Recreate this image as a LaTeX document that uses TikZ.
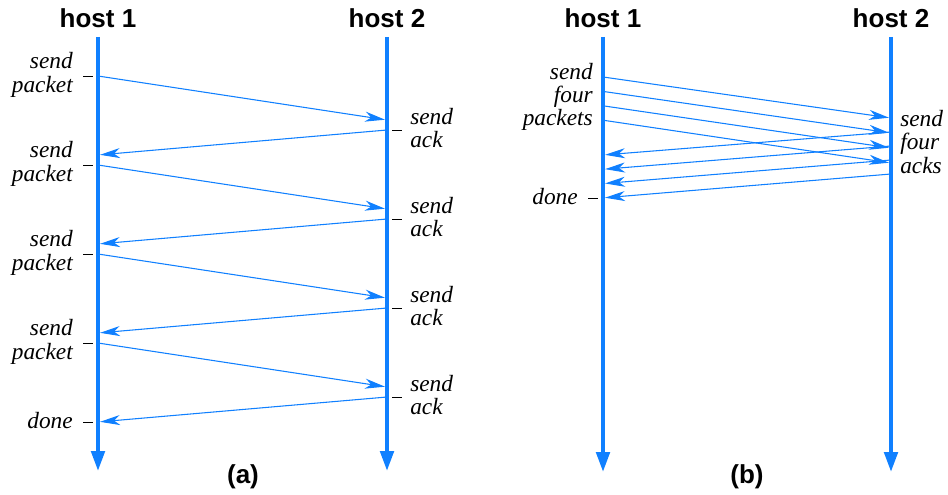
\documentclass[tikz,border=0pt]{standalone}
\usepackage{fontspec}
\setmainfont{Liberation Serif}
\newfontfamily\hostfont{Liberation Sans}
\usetikzlibrary{arrows.meta}
\definecolor{lineblue}{RGB}{16,128,255}

\begin{document}
\begin{tikzpicture}[x=0.75pt,y=-0.75pt,
    host/.style={font=\hostfont\bfseries\fontsize{19.5}{19.5}\selectfont, inner sep=0pt},
    lbl/.style={font=\itshape\fontsize{17.5}{17.5}\selectfont, inner sep=0pt},
    timeline/.style={lineblue, line width=3pt, -{Triangle[length=15pt,width=10pt]}},
    msg/.style={lineblue, line width=0.8pt, shorten >=1.5pt, -{Stealth[length=15pt,width=7.5pt,inset=4.5pt]}},
    tick/.style={black, line width=0.7pt}
  ]
  \useasboundingbox (0,0) rectangle (948,495);

  % (a) stop and wait
  \coordinate (a1top) at (98,37);  \coordinate (a1bot) at (98,471);
  \coordinate (a2top) at (387,37); \coordinate (a2bot) at (387,471);
  \draw[timeline] (a1top) -- (a1bot);
  \draw[timeline] (a2top) -- (a2bot);
  \node[host, anchor=base] (hosta1) at (98,28) {host 1};
  \node[host, anchor=base] (hosta2) at (387,28) {host 2};
  \node[host] (capa) at (243,477) {(a)};

  \foreach \k in {0,1,2,3} {
    \pgfmathsetmacro{\y}{76+89*\k}
    \coordinate (pa\k) at (98,\y);
    \coordinate (qa\k) at (387,\y+44);
    \coordinate (ra\k) at (387,\y+54);
    \coordinate (sa\k) at (98,\y+79);
    \draw[msg] (pa\k) -- (qa\k);
    \draw[msg] (ra\k) -- (sa\k);
    % labels
    \node[lbl, anchor=east, align=right] (sendp\k) at (73,\y-1) {send\\packet};
    \draw[tick] (83,\y) -- (93,\y);
    \node[lbl, anchor=west, align=left] (senda\k) at (410,\y+52) {send\\ack};
    \draw[tick] (392,\y+54) -- (402,\y+54);
  }
  \node[lbl, anchor=east] (donea) at (73,421) {done};
  \draw[tick] (83,422) -- (93,422);

  % (b) four packets at once
  \coordinate (b1top) at (603,37); \coordinate (b1bot) at (603,472);
  \coordinate (b2top) at (891,37); \coordinate (b2bot) at (891,472);
  \draw[timeline] (b1top) -- (b1bot);
  \draw[timeline] (b2top) -- (b2bot);
  \node[host, anchor=base] (hostb1) at (603,28) {host 1};
  \node[host, anchor=base] (hostb2) at (891,28) {host 2};
  \node[host] (capb) at (747,477) {(b)};

  \foreach \k in {0,1,2,3} {
    \coordinate (pb\k) at (603,77+14.4*\k);
    \coordinate (qb\k) at (891,118+15*\k);
    \coordinate (rb\k) at (891,132+14*\k);
    \coordinate (sb\k) at (603,155+14.3*\k);
    \draw[msg] (pb\k) -- (qb\k);
    \draw[msg] (rb\k) -- (sb\k);
  }
  \node[lbl, anchor=east, align=right] (sendfour) at (593,97) {send\\four\\packets};
  \node[lbl, anchor=west, align=left] (ackfour) at (900,142) {send\\four\\acks};
  \node[lbl, anchor=east] (doneb) at (578,197) {done};
  \draw[tick] (588,198) -- (598,198);
\end{tikzpicture}
\end{document}
